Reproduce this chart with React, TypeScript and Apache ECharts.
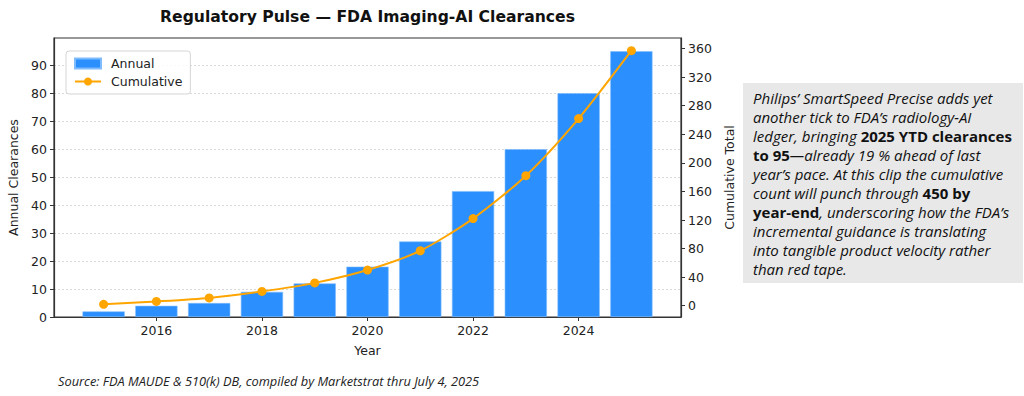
import React, { useEffect, useRef } from "react";
import * as echarts from "echarts";

const years = [2015, 2016, 2017, 2018, 2019, 2020, 2021, 2022, 2023, 2024, 2025];
const annual = [2, 4, 5, 9, 12, 18, 27, 45, 60, 80, 95];
const cumulative = [2, 6, 11, 20, 32, 50, 77, 122, 182, 262, 357];
const xTickLabels = [2016, 2018, 2020, 2022, 2024];
const leftTickLabels = [0, 10, 20, 30, 40, 50, 60, 70, 80, 90];
const rightTickLabels = [0, 40, 80, 120, 160, 200, 240, 280, 320, 360];

const titleText = "Regulatory Pulse \u2014 FDA Imaging-AI Clearances";
const sourceText = "Source: FDA MAUDE & 510(k) DB, compiled by Marketstrat thru July 4, 2025";
const noteLines = [
  "{i|Philips\u2019 SmartSpeed Precise adds yet}",
  "{i|another tick to FDA\u2019s radiology-AI}",
  "{i|ledger, bringing }{b|2025 YTD clearances}",
  "{b|to 95}{i|\u2014already 19 % ahead of last}",
  "{i|year\u2019s pace. At this clip the cumulative}",
  "{i|count will punch through }{b|450 by}",
  "{b|year-end}{i|, underscoring how the FDA\u2019s}",
  "{i|incremental guidance is translating}",
  "{i|into tangible product velocity rather}",
  "{i|than red tape.}",
];

const FONT = "DejaVu Sans";
const NOTE_FONT = "Open Sans";

export default function App() {
  const ref = useRef<HTMLDivElement>(null);
  useEffect(() => {
    document.body.style.margin = "0";
    if (!ref.current) return;
    const chart = echarts.init(ref.current, undefined, { renderer: "svg" });
    const axisLabelStyle = { color: "#222", fontSize: 12.5, fontFamily: FONT };
    chart.setOption({
      animation: false,
      backgroundColor: "#fff",
      legend: {
        orient: "vertical",
        left: 66,
        top: 51,
        padding: [6, 8, 6, 8],
        itemGap: 5,
        itemWidth: 26,
        itemHeight: 10,
        borderColor: "#d5d5d5",
        borderWidth: 1,
        borderRadius: 3,
        backgroundColor: "rgba(255,255,255,0.85)",
        textStyle: { fontFamily: FONT, fontSize: 12.5, color: "#222", padding: [0, 0, 0, 5] },
        data: [
          { name: "Annual", icon: "rect" },
          { name: "Cumulative" },
        ],
      },
      grid: {
        left: 54,
        right: 343,
        top: 38,
        bottom: 79,
        outerBoundsMode: "none",
        containLabel: false,
        show: true,
        borderColor: "#333",
        borderWidth: 1.2,
      },
      xAxis: {
        type: "value",
        min: 2014.06,
        max: 2025.94,
        name: "Year",
        nameLocation: "middle",
        nameGap: 27,
        nameTextStyle: axisLabelStyle,
        axisLine: { show: true, lineStyle: { color: "#333", width: 1.2 } },
        axisTick: { show: true, length: 4, customValues: xTickLabels, lineStyle: { color: "#333" } },
        axisLabel: { ...axisLabelStyle, customValues: xTickLabels, margin: 7, formatter: (v: number) => String(v) },
        splitLine: { show: false },
      },
      yAxis: [
        {
          type: "value",
          min: 0,
          max: 99.75,
          interval: 10,
          name: "Annual Clearances",
          nameLocation: "middle",
          nameGap: 32,
          nameTextStyle: axisLabelStyle,
          axisLine: { show: true, lineStyle: { color: "#333", width: 1.2 } },
          axisTick: { show: true, length: 4, customValues: leftTickLabels, lineStyle: { color: "#333" } },
          axisLabel: { ...axisLabelStyle, customValues: leftTickLabels, margin: 7 },
          splitLine: { show: true, lineStyle: { color: "#cfcfcf", type: [2, 2], width: 0.8 } },
        },
        {
          type: "value",
          min: -15.75,
          max: 374.75,
          name: "Cumulative Total",
          nameLocation: "middle",
          nameGap: 36,
          nameTextStyle: axisLabelStyle,
          position: "right",
          axisLine: { show: true, lineStyle: { color: "#333", width: 1.2 } },
          axisTick: { show: true, length: 4, customValues: rightTickLabels, lineStyle: { color: "#333" } },
          axisLabel: { ...axisLabelStyle, customValues: rightTickLabels, margin: 7 },
          splitLine: { show: false },
        },
      ],
      series: [
        {
          name: "Annual",
          type: "bar",
          yAxisIndex: 0,
          barWidth: "80%",
          itemStyle: { color: "#2b8ffd", borderColor: "#7fbcff", borderWidth: 0.6 },
          data: years.map((y, i) => [y, annual[i]]),
        },
        {
          name: "Cumulative",
          type: "line",
          yAxisIndex: 1,
          smooth: 0.25,
          symbol: "circle",
          symbolSize: 9,
          lineStyle: { color: "#FFA500", width: 2 },
          itemStyle: { color: "#FFA500" },
          data: years.map((y, i) => [y, cumulative[i]]),
        },
      ],
      graphic: [
        {
          type: "text",
          x: 367.5,
          y: 17,
          style: {
            text: titleText,
            fontFamily: FONT,
            fontWeight: "bold",
            fontSize: 15.6,
            fill: "#111",
            textAlign: "center",
            textVerticalAlign: "middle",
          },
        },
        {
          type: "rect",
          shape: { x: 743, y: 83, width: 280, height: 200 },
          style: { fill: "#e8e8e8" },
          silent: true,
        },
        {
          type: "text",
          x: 753,
          y: 88,
          style: {
            text: noteLines.join("\n"),
            fontFamily: NOTE_FONT,
            fontSize: 15,
            lineHeight: 19,
            fill: "#111",
            rich: {
              i: { fontFamily: NOTE_FONT, fontStyle: "italic", fontSize: 15, lineHeight: 19, fill: "#111" },
              b: { fontFamily: NOTE_FONT, fontWeight: "bold", fontSize: 15, lineHeight: 19, fill: "#111" },
            },
          },
        },
        {
          type: "text",
          x: 58,
          y: 381,
          style: {
            text: sourceText,
            fontFamily: NOTE_FONT,
            fontStyle: "italic",
            fontSize: 12.8,
            fill: "#222",
            textVerticalAlign: "middle",
          },
        },
      ],
    });
    return () => chart.dispose();
  }, []);
  return <div ref={ref} style={{ width: 1024, height: 396 }} />;
}
